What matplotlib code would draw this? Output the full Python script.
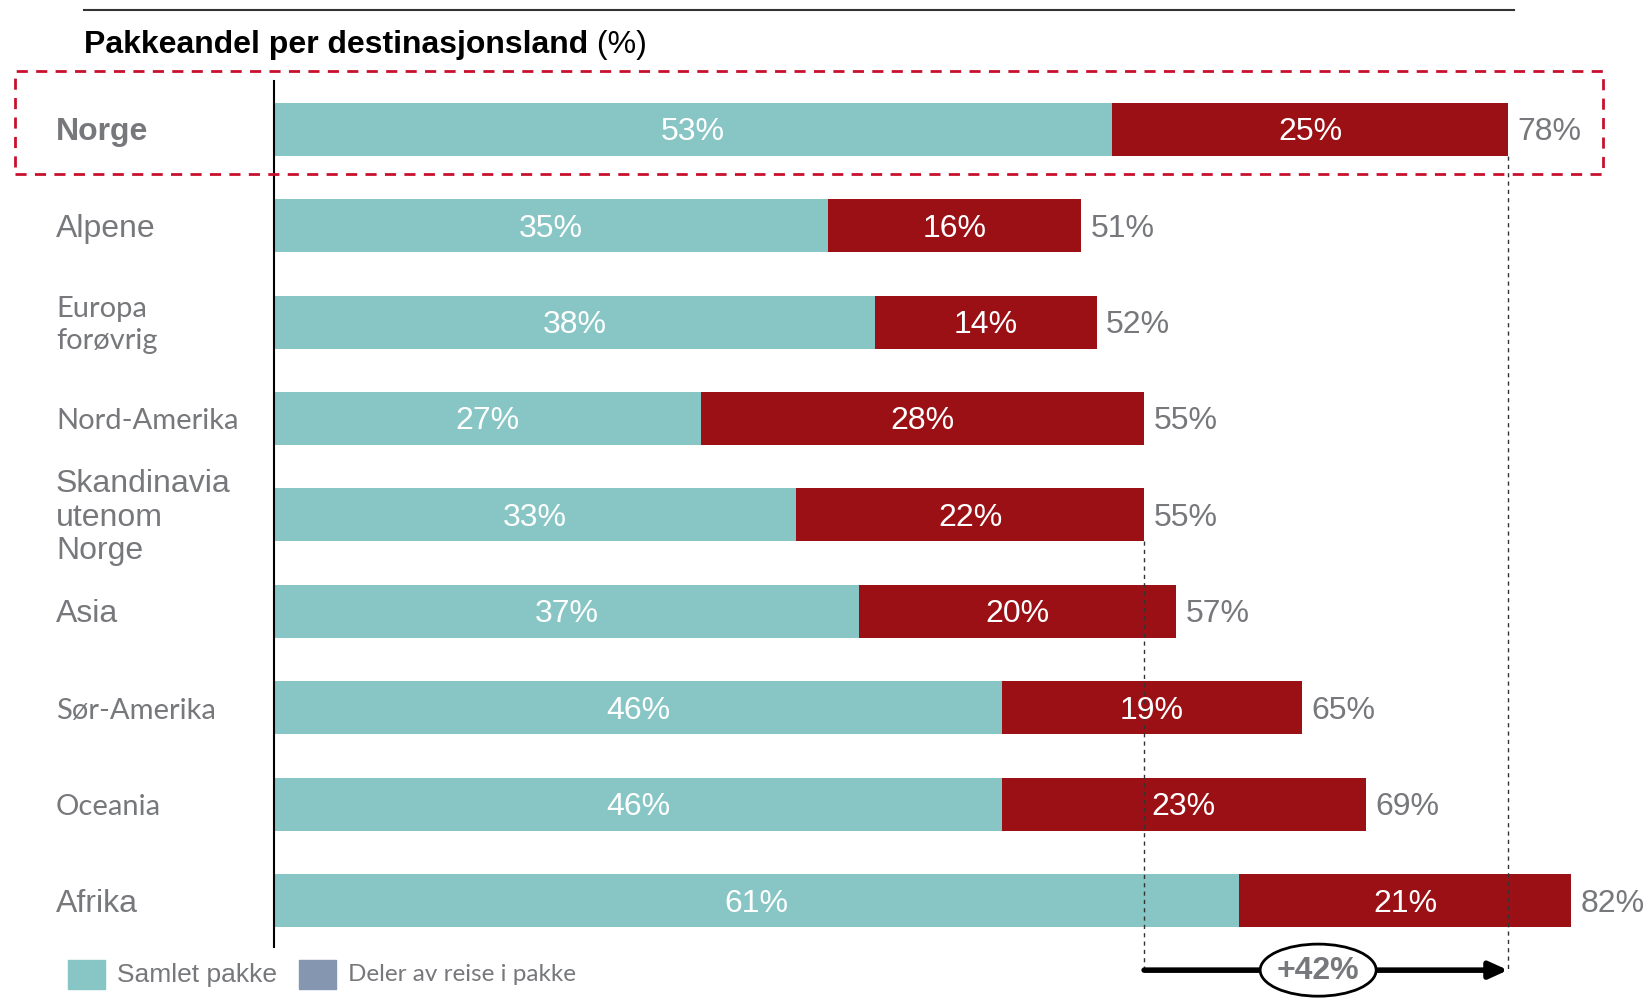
import numpy as np
import matplotlib.pyplot as plt
from matplotlib.patches import Rectangle, Ellipse

# data
countries = ['Norge', 'Alpene', 'Europa\nforøvrig', 'Nord-Amerika', 'Skandinavia\nutenom\nNorge',
             'Asia', 'Sør-Amerika', 'Oceania', 'Afrika']
samlet = [53, 35, 38, 27, 33, 37, 46, 46, 61]
deler = [25, 16, 14, 28, 22, 20, 19, 23, 21]
totals = [78, 51, 52, 55, 55, 57, 65, 69, 82]
# which labels use the Calibri-like face
calibri_like = [False, False, True, True, False, False, True, True, False]

TEAL = '#88c5c5'
RED = '#9b1015'
BLUE = '#8496b0'
GRAY = '#77787b'
ARIAL = 'Liberation Sans'
CALI = 'Lato'

W, H = 1652, 1004
fig = plt.figure(figsize=(W / 100, H / 100), dpi=100)

# axes placed in pixel terms
x0, x1 = 274, 1652
y_top, y_bot = 82, 948
ax = fig.add_axes([x0 / W, 1 - y_bot / H, (x1 - x0) / W, (y_bot - y_top) / H])
px_per_pct = (1508 - 274) / 78
ax.set_xlim(0, (x1 - x0) / px_per_pct)
ax.set_ylim(8.48, -0.5)

y = np.arange(len(countries))
bh = 0.55
ax.barh(y, samlet, height=bh, color=TEAL, edgecolor='none')
ax.barh(y, deler, left=samlet, height=bh, color=RED, edgecolor='none')

for i in range(len(countries)):
    yc = y[i] + 0.02
    ax.text(samlet[i] / 2, yc, f'{samlet[i]}%', ha='center', va='center',
            color='white', fontsize=23, family=ARIAL)
    ax.text(samlet[i] + deler[i] / 2, yc, f'{deler[i]}%', ha='center', va='center',
            color='white', fontsize=23, family=ARIAL)
    ax.text(totals[i] + 0.6, yc, f'{totals[i]}%', ha='left', va='center',
            color=GRAY, fontsize=23, family=ARIAL)
    fam = CALI if calibri_like[i] else ARIAL
    ax.text(-218 / px_per_pct, yc, countries[i], ha='left', va='center',
            color=GRAY, fontsize=23 if not calibri_like[i] else 21, family=fam,
            fontweight='bold' if i == 0 else 'normal',
            linespacing=1.3 if calibri_like[i] else 1.15, clip_on=False)

for s in ['top', 'right', 'bottom']:
    ax.spines[s].set_visible(False)
ax.spines['left'].set_linewidth(1.5)
ax.set_xticks([])
ax.set_yticks([])

# dashed guides and arrow
arrow_y = 8.72
ax.plot([78, 78], [bh / 2, arrow_y], ls=(0, (3, 3)), color='#333333', lw=1, clip_on=False)
ax.plot([55, 55], [4 + bh / 2, arrow_y], ls=(0, (3, 3)), color='#333333', lw=1, clip_on=False)
ax.annotate('', xy=(78, arrow_y), xytext=(55, arrow_y), xycoords='data',
            arrowprops=dict(arrowstyle='-|>,head_length=1.1,head_width=0.5', color='black', lw=4,
                            shrinkA=0, shrinkB=0), annotation_clip=False)
ax.add_patch(Ellipse((66.0, arrow_y), 116 / px_per_pct, 0.54, facecolor='white',
                     edgecolor='black', lw=2, clip_on=False, zorder=5))
ax.text(66.0, arrow_y, '+42%', ha='center', va='center', color=GRAY, fontsize=23,
        fontweight='bold', family=ARIAL, zorder=6, clip_on=False)

# red dashed box around Norge
bx0, bx1, by0, by1 = 15, 1603, 72, 175
fig.patches.append(Rectangle((bx0 / W, 1 - by1 / H), (bx1 - bx0) / W, (by1 - by0) / H,
                             transform=fig.transFigure, fill=False, edgecolor='#c8102e',
                             lw=2, ls=(0, (4, 3))))

# top rule and title
fig.add_artist(plt.Line2D([84 / W, 1514 / W], [1 - 10.5 / H, 1 - 10.5 / H], color='#333333', lw=1.5))
t = fig.text(84 / W, 1 - 45 / H, 'Pakkeandel per destinasjonsland', ha='left', va='center',
             fontsize=23, fontweight='bold', family=ARIAL)
ax.annotate(' (%)', xy=(1, 0.5), xycoords=t, ha='left', va='center', fontsize=23, family=ARIAL)

# legend
ly = 975
fig.patches.append(Rectangle((68 / W, 1 - 990 / H), 37 / W, 29 / H, transform=fig.transFigure,
                             color=TEAL))
fig.text(117 / W, 1 - ly / H, 'Samlet pakke', ha='left', va='center', fontsize=19,
         color=GRAY, family=ARIAL)
fig.patches.append(Rectangle((299 / W, 1 - 990 / H), 37 / W, 29 / H, transform=fig.transFigure,
                             color=BLUE))
fig.text(348 / W, 1 - ly / H, 'Deler av reise i pakke', ha='left', va='center', fontsize=17.5,
         color=GRAY, family=CALI)

fig.savefig('out.png', dpi=100)
